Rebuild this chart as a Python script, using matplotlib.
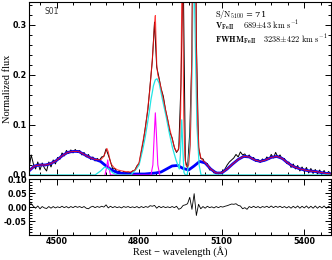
import numpy as np
import matplotlib
matplotlib.use('Agg')
import matplotlib.pyplot as plt
from matplotlib.ticker import MultipleLocator

plt.rcParams['mathtext.fontset'] = 'cm'

# observed spectrum and residuals, sampled every 8 A from 4400 A
wave_obs = np.arange(4400, 5500, 8)
flux_obs = [
    0.012, 0.040, 0.022, 0.012, 0.026, 0.010, 0.024, 0.014, 0.008, 0.026,
    0.016, 0.030, 0.022, 0.035, 0.031, 0.044, 0.038, 0.049, 0.043, 0.050,
    0.044, 0.051, 0.045, 0.049, 0.040, 0.045, 0.036, 0.041, 0.031, 0.036,
    0.028, 0.033, 0.029, 0.036, 0.037, 0.052, 0.040, 0.027, 0.012, 0.013,
    0.005, 0.008, 0.003, 0.007, 0.004, 0.006, 0.004, 0.008, 0.009, 0.018,
    0.023, 0.047, 0.070, 0.100, 0.131, 0.180, 0.228, 0.305, 0.215, 0.195,
    0.172, 0.157, 0.130, 0.110, 0.085, 0.074, 0.055, 0.045, 0.052, 0.180,
    0.420, 0.028, 0.014, 0.085, 0.240, 0.950, 0.270, 0.055, 0.033, 0.032,
    0.022, 0.023, 0.010, 0.011, 0.004, 0.006, 0.002, 0.005, 0.008, 0.012,
    0.020, 0.026, 0.030, 0.034, 0.041, 0.036, 0.046, 0.040, 0.042, 0.035,
    0.040, 0.032, 0.035, 0.027, 0.031, 0.025, 0.032, 0.028, 0.036, 0.031,
    0.041, 0.034, 0.045, 0.036, 0.040, 0.031, 0.033, 0.023, 0.026, 0.015,
    0.022, 0.012, 0.019, 0.008, 0.016, 0.007, 0.015, 0.004, 0.013, 0.003,
    0.011, 0.002, 0.010, 0.001, 0.009, 0.000, 0.007, 0.003,
]
resid = [
    0.022, 0.012, 0.003, -0.004, 0.004, -0.006, 0.002, -0.003, -0.005, 0.002,
    -0.004, 0.002, -0.003, 0.001, -0.002, 0.003, -0.002, 0.002, -0.003, 0.002,
    -0.002, 0.003, -0.001, 0.002, -0.002, 0.002, -0.004, -0.006, 0.000, 0.003,
    -0.002, 0.002, -0.001, 0.003, 0.000, 0.008, -0.003, 0.003, -0.002, 0.002,
    -0.002, 0.001, -0.003, 0.002, -0.001, 0.002, -0.002, 0.001, -0.002, 0.002,
    -0.003, 0.002, -0.002, 0.002, -0.001, 0.005, 0.003, 0.006, -0.004, 0.003,
    -0.002, 0.002, -0.002, 0.001, -0.002, 0.002, -0.002, 0.003, -0.008, -0.004,
    0.006, 0.008, 0.012, 0.035, -0.008, 0.048, -0.030, 0.010, -0.006, 0.002,
    -0.004, 0.003, -0.002, 0.001, -0.003, 0.002, -0.002, 0.002, 0.000, 0.003,
    0.005, 0.008, 0.011, 0.010, 0.012, 0.006, 0.004, -0.006, -0.002, -0.008,
    0.002, -0.002, 0.003, -0.002, 0.002, -0.003, 0.002, -0.001, 0.003, -0.002,
    0.004, -0.002, 0.003, -0.001, 0.003, -0.002, 0.002, -0.003, 0.002, -0.004,
    0.003, -0.003, 0.004, -0.004, 0.003, -0.003, 0.004, -0.004, 0.003, -0.004,
    0.004, -0.004, 0.003, -0.003, 0.004, -0.004, 0.003, -0.002,
]

# FeII template, every 20 A
wave_fe = np.arange(4400, 5501, 20)
feii = [
    0.008, 0.018, 0.020, 0.020, 0.023, 0.029, 0.038, 0.045, 0.047, 0.047,
    0.041, 0.035, 0.031, 0.027, 0.018, 0.010, 0.005, 0.003, 0.002, 0.002,
    0.002, 0.002, 0.003, 0.004, 0.006, 0.012, 0.018, 0.019, 0.013, 0.010,
    0.018, 0.027, 0.024, 0.012, 0.004, 0.004, 0.012, 0.022, 0.031, 0.037,
    0.036, 0.030, 0.027, 0.030, 0.035, 0.037, 0.033, 0.024, 0.017, 0.013,
    0.010, 0.008, 0.007, 0.005, 0.003, 0.002,
]

# broad components (cyan)
wave_br = [4400, 4640, 4660, 4675, 4690, 4705, 4720, 4770, 4790, 4800,
           4813, 4822, 4831, 4838, 4843, 4848, 4852, 4859, 4865, 4873,
           4885, 4898, 4910, 4921, 4934, 4946, 4950, 4955, 4959, 4963,
           4968, 4975, 4985, 4992, 4998, 5003, 5010, 5018, 5025, 5500]
broad = [0.0, 0.0, 0.008, 0.016, 0.012, 0.004, 0.0, 0.0, 0.012, 0.02,
         0.05, 0.075, 0.105, 0.13, 0.15, 0.165, 0.178, 0.19, 0.192, 0.183,
         0.15, 0.117, 0.083, 0.055, 0.03, 0.012, 0.04, 0.11, 0.05, 0.005,
         0.0, 0.0, 0.06, 0.2, 0.45, 0.3, 0.1, 0.02, 0.0, 0.0]

# narrow components (magenta)
wave_nr = [4676, 4682, 4686, 4690, 4696, 4843, 4850, 4855, 4859, 4863, 4868, 4875]
narrow = [0.0, 0.015, 0.03, 0.015, 0.0, 0.0, 0.02, 0.08, 0.124, 0.08, 0.02, 0.0]

# total model (red)
wave_mod = [4400, 4420, 4440, 4460, 4480, 4500, 4520, 4540, 4560, 4580,
            4600, 4620, 4640, 4660, 4670, 4678, 4683, 4688, 4697, 4710,
            4722, 4747, 4770, 4785, 4800, 4813, 4822, 4831, 4838, 4843,
            4848, 4852, 4856, 4859, 4864, 4868, 4873, 4885, 4898, 4910,
            4921, 4930, 4936, 4942, 4947, 4951, 4955, 4957, 4959, 4962,
            4966, 4970, 4975, 4980, 4986, 4992, 4997, 5000, 5004, 5008,
            5013, 5018, 5024, 5030, 5040, 5060, 5080, 5100, 5120, 5140,
            5160, 5180, 5200, 5220, 5240, 5260, 5280, 5300, 5320, 5340,
            5360, 5380, 5400, 5420, 5440, 5460, 5480, 5500]
model = [0.008, 0.018, 0.020, 0.020, 0.023, 0.029, 0.038, 0.045, 0.047, 0.047,
         0.041, 0.035, 0.031, 0.030, 0.036, 0.045, 0.053, 0.046, 0.023, 0.014,
         0.010, 0.007, 0.006, 0.010, 0.025, 0.064, 0.090, 0.130, 0.165, 0.197,
         0.230, 0.263, 0.300, 0.318, 0.220, 0.200, 0.190, 0.160, 0.125, 0.095,
         0.070, 0.052, 0.047, 0.050, 0.065, 0.130, 0.350, 0.500, 0.350, 0.120,
         0.040, 0.020, 0.016, 0.020, 0.060, 0.250, 0.600, 0.900, 0.600, 0.250,
         0.100, 0.050, 0.035, 0.030, 0.025, 0.012, 0.004, 0.004, 0.012, 0.022,
         0.031, 0.037, 0.036, 0.030, 0.027, 0.030, 0.035, 0.037, 0.033, 0.024,
         0.017, 0.013, 0.010, 0.008, 0.007, 0.005, 0.003, 0.002]

fig = plt.figure(figsize=(3.32, 2.60), dpi=100)
ax1 = fig.add_axes([0.0873, 0.327, 0.9096, 0.665])
ax2 = fig.add_axes([0.0873, 0.096, 0.9096, 0.215])

ax1.plot(wave_obs, flux_obs, color='black', lw=0.7)
ax1.plot(wave_fe, feii, color='#0000ff', lw=2.0)
ax1.plot(wave_nr, narrow, color='#ff00ff', lw=0.8)
ax1.plot(wave_br, broad, color='#22e5e5', lw=0.9)
ax1.plot(wave_mod, model, color='#ff1010', lw=0.8, alpha=0.8)

ax2.plot(wave_obs, resid, color='black', lw=0.6)

for ax in (ax1, ax2):
    ax.set_xlim(4400, 5497)
    ax.xaxis.set_major_locator(MultipleLocator(300))
    ax.xaxis.set_minor_locator(MultipleLocator(60))
    ax.tick_params(which='both', direction='in', top=True, right=True, width=0.7)
    ax.tick_params(which='major', length=4, labelsize=5.8, pad=1.5)
    ax.tick_params(which='minor', length=2)
    for s in ax.spines.values():
        s.set_linewidth(0.8)

ax1.set_ylim(0, 0.345)
ax1.set_yticks([0.0, 0.1, 0.2, 0.3])
ax1.set_yticklabels(['0.0', '0.1', '0.2', '0.3'], fontweight='bold')
ax1.yaxis.set_minor_locator(MultipleLocator(0.02))
ax1.tick_params(labelbottom=False)

ax2.set_ylim(-0.1, 0.1)
ax2.set_yticks([-0.05, 0.0, 0.05, 0.10])
ax2.set_yticklabels(['-0.05', '0.00', '0.05', '0.10'], fontweight='bold')
ax2.yaxis.set_minor_locator(MultipleLocator(0.01))
ax2.set_xticks([4500, 4800, 5100, 5400])
ax2.set_xticklabels(['4500', '4800', '5100', '5400'], fontweight='bold')

ax1.set_ylabel('Normalized flux', fontsize=7.5, family='Liberation Serif')
ax1.yaxis.set_label_coords(-0.056, 0.5)
ax2.set_xlabel('Rest \u2212 wavelength (\u00c5)', fontsize=7.5, family='Liberation Serif')
ax2.xaxis.set_label_coords(0.5, -0.19)

ax1.text(0.05, 0.93, 'S01', transform=ax1.transAxes, fontsize=5.5, color='#333333')
ax1.text(0.617, 0.915, r'$\mathrm{S/N_{5100}}$ = 71', transform=ax1.transAxes,
         fontsize=6, family='serif')
ax1.text(0.617, 0.845, r'$\mathbf{V_{FeII}}$', transform=ax1.transAxes, fontsize=6)
ax1.text(0.71, 0.845, r'$\mathrm{689{\pm}43\ km\ s^{-1}}$', transform=ax1.transAxes, fontsize=6)
ax1.text(0.617, 0.765, r'$\mathbf{FWHM_{FeII}}$', transform=ax1.transAxes, fontsize=6)
ax1.text(0.775, 0.765, r'$\mathrm{3238{\pm}422\ km\ s^{-1}}$', transform=ax1.transAxes, fontsize=6)

fig.savefig('out.png', dpi=100)
